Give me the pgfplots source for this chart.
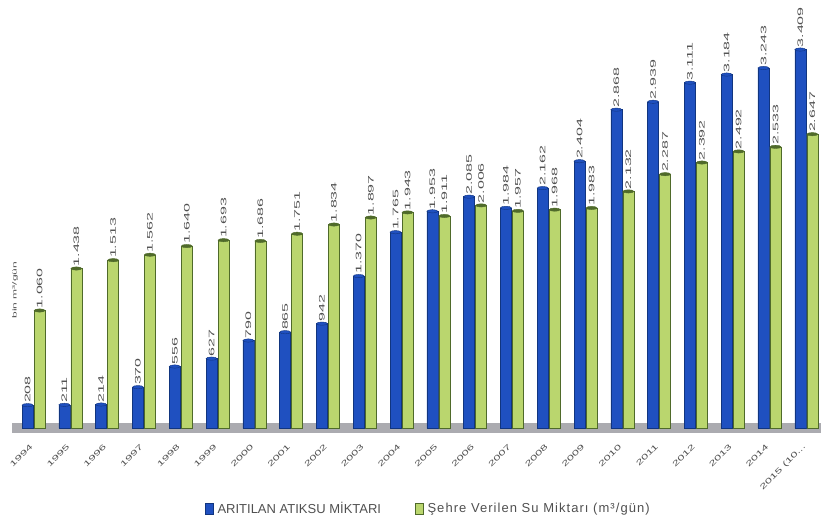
\documentclass[border=0pt]{standalone}
\usepackage{fontspec}
\setmainfont{Liberation Sans}
\newfontfamily\legfont[LetterSpace=8]{Liberation Sans}
\usepackage{pgfplots}
\pgfplotsset{compat=1.18}
\definecolor{barblue}{HTML}{1F50C0}
\definecolor{barblueD}{HTML}{11357F}
\definecolor{bargreen}{HTML}{BAD66E}
\definecolor{bargreenD}{HTML}{4F6A2A}
\definecolor{txt}{HTML}{505050}
\definecolor{floor}{HTML}{ABABB0}
\newcommand{\Sx}[1]{\scalebox{1.7}[1]{#1}}
\newcommand{\Sy}[1]{\scalebox{2.0}[1]{#1}}
\pgfplotstableread{
x a b
0 208 1060
1 211 1438
2 214 1513
3 370 1562
4 556 1640
5 627 1693
6 790 1686
7 865 1751
8 942 1834
9 1370 1897
10 1765 1943
11 1953 1911
12 2085 2006
13 1984 1957
14 2162 1968
15 2404 1983
16 2868 2132
17 2939 2287
18 3111 2392
19 3184 2492
20 3243 2533
21 3409 2647
}\datatable
\begin{document}
\begin{tikzpicture}
\begin{axis}[
  width=809pt, height=433pt, scale only axis,
  xmin=-0.6, xmax=21.4, ymin=-45, ymax=3855,
  axis line style={draw=none},
  ytick=\empty,
  xtick={0,...,21},
  xticklabels={\Sx{1994},\Sx{1995},\Sx{1996},\Sx{1997},\Sx{1998},\Sx{1999},\Sx{2000},\Sx{2001},\Sx{2002},\Sx{2003},\Sx{2004},\Sx{2005},\Sx{2006},\Sx{2007},\Sx{2008},\Sx{2009},\Sx{2010},\Sx{2011},\Sx{2012},\Sx{2013},\Sx{2014},\Sx{2015 (10...}},
  major tick length=0pt,
  xticklabel style={rotate=45, anchor=north east, font=\fontsize{7.5}{8}\selectfont, text=txt, xshift=-9pt, yshift=-3pt, inner sep=1pt},
  /pgf/number format/.cd, fixed, precision=0, 1000 sep={.}, assume math mode=true,
  /pgfplots/.cd,
  legend style={at={(0.515,-0.173)}, anchor=center, draw=none, fill=none,
    font=\fontsize{13}{15}\selectfont, text=txt, legend columns=2,
    /tikz/every even column/.append style={column sep=32pt}},
  legend image code/.code={\fill[#1] (0pt,-5.5pt) rectangle (8pt,5.5pt); \path (10pt,0pt);},
  lbl/.style={nodes near coords={\Sy{\pgfmathprintnumber\pgfplotspointmeta}},
    nodes near coords style={rotate=90, anchor=west, font=\fontsize{8}{9}\selectfont, text=txt, inner xsep=2pt, inner ysep=0pt}},
  clip=false,
]
\fill[floor] (axis cs:-0.6,-45) rectangle (axis cs:21.4,50);
\addplot[ybar, bar width=11pt, bar shift=-6pt, fill=barblue, draw=barblueD, line width=0.4pt]
 table[x=x, y=a] {\datatable};
\addlegendentry{ARITILAN ATIKSU MİKTARI}
\addplot[ybar, bar width=11pt, bar shift=6pt, fill=bargreen, draw=bargreenD, line width=0.4pt]
 table[x=x, y=b] {\datatable};
\addlegendentry{\legfont Şehre Verilen Su Miktarı (m³/gün)}
\addplot[forget plot, only marks, mark=*, mark size=5.5pt, xshift=6pt, mark options={yscale=0.3, fill=bargreenD, draw=bargreenD}, lbl]
 table[x=x, y=b] {\datatable};
\addplot[forget plot, only marks, mark=*, mark size=5.5pt, xshift=-6pt, mark options={yscale=0.3, fill=barblue, draw=barblueD}, lbl]
 table[x=x, y=a] {\datatable};
\node[rotate=90, font=\fontsize{6}{7}\selectfont, text=txt, inner sep=0pt] at (axis cs:-0.5,1243) {\Sy{bin m³/gün}};
\end{axis}
\pgfresetboundingbox
\path (current axis.south west) ++(-11.5pt,-88pt) rectangle (current axis.north east);
\end{tikzpicture}
\end{document}
